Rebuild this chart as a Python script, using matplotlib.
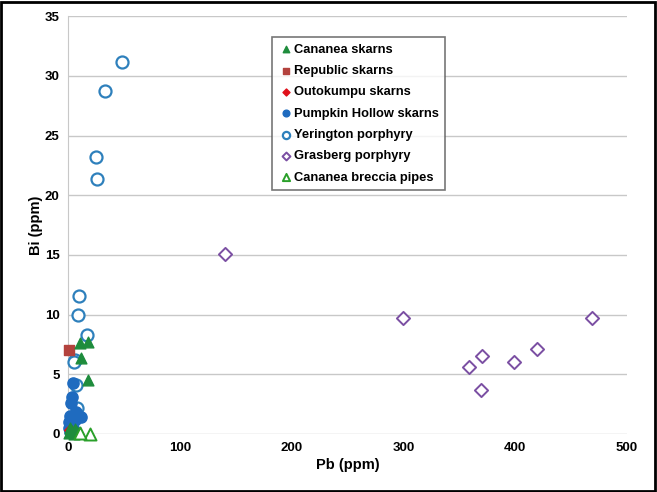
import matplotlib.pyplot as plt
from matplotlib.patches import Rectangle

plt.rcParams['font.family'] = ['Liberation Sans', 'DejaVu Sans']
plt.rcParams['font.weight'] = 'bold'

# Cananea skarns
cananea_pb = [11, 18, 12, 18, 1, 3, 5, 8, 2, 10, 6]
cananea_bi = [7.6, 7.7, 6.4, 4.5, 0.1, 0.3, 0.0, 0.2, 0.5, 0.1, 0.4]
# Republic skarns
republic_pb = [1]
republic_bi = [7.0]
# Outokumpu skarns
outokumpu_pb = [2]
outokumpu_bi = [0.3]
# Pumpkin Hollow skarns
pumpkin_pb = [4.5, 4, 3, 12, 1, 2, 6, 0.5, 3, 5, 1.5, 7]
pumpkin_bi = [4.3, 3.1, 2.6, 1.4, 1.0, 1.5, 1.2, 0.5, 0.8, 0.3, 0.2, 1.8]
# Yerington porphyry
yerington_pb = [48, 33, 25, 26, 10, 9, 17, 6, 5, 8, 7, 3]
yerington_bi = [31.2, 28.7, 23.2, 21.4, 11.6, 10.0, 8.3, 6.2, 6.0, 2.2, 4.1, 1.0]
# Grasberg porphyry
grasberg_pb = [140, 300, 359, 370, 369, 399, 419, 469]
grasberg_bi = [15.1, 9.7, 5.6, 6.5, 3.7, 6.0, 7.1, 9.7]
# Cananea breccia pipes
breccia_pb = [20, 11]
breccia_bi = [0.0, 0.1]

fig = plt.figure(figsize=(6.57, 4.92), dpi=100)
ax = fig.add_axes([0.1035, 0.118, 0.851, 0.849])

ax.scatter(yerington_pb, yerington_bi, marker='o', s=75, facecolors='white', edgecolors='#2e80bc',
           linewidths=1.6, label='Yerington porphyry', clip_on=False, zorder=3)
ax.scatter(pumpkin_pb, pumpkin_bi, marker='o', s=65, color='#1f6bbf', label='Pumpkin Hollow skarns',
           clip_on=False, zorder=4)
ax.scatter(republic_pb, republic_bi, marker='s', s=50, color='#b3423d', label='Republic skarns',
           clip_on=False, zorder=4)
ax.scatter(outokumpu_pb, outokumpu_bi, marker='D', s=35, color='#e0101a', label='Outokumpu skarns',
           clip_on=False, zorder=4)
ax.scatter(grasberg_pb, grasberg_bi, marker='D', s=45, facecolors='white', edgecolors='#7b4fa3',
           linewidths=1.4, label='Grasberg porphyry', clip_on=False, zorder=3)
ax.scatter(cananea_pb, cananea_bi, marker='^', s=60, color='#1e8c3c', label='Cananea skarns',
           clip_on=False, zorder=5)
ax.scatter(breccia_pb, breccia_bi, marker='^', s=75, facecolors='white', edgecolors='#2aa02a',
           linewidths=1.4, label='Cananea breccia pipes', clip_on=False, zorder=5)

ax.set_xlim(0, 500)
ax.set_ylim(0, 35)
ax.set_xticks(range(0, 501, 100))
ax.set_yticks(range(0, 36, 5))
ax.grid(axis='y', color='#c8c8c8', linewidth=1)
ax.set_axisbelow(True)
for side in ['top', 'right', 'bottom']:
    ax.spines[side].set_visible(False)
ax.spines['left'].set_color('#c8c8c8')
ax.tick_params(length=0, labelsize=9.5, pad=6)
for lab in ax.get_xticklabels() + ax.get_yticklabels():
    lab.set_fontweight('bold')
ax.set_xlabel('Pb (ppm)', fontsize=10.5, fontweight='bold', labelpad=3)
ax.set_ylabel('Bi (ppm)', fontsize=10.5, fontweight='bold', labelpad=1)

order = ['Cananea skarns', 'Republic skarns', 'Outokumpu skarns', 'Pumpkin Hollow skarns',
         'Yerington porphyry', 'Grasberg porphyry', 'Cananea breccia pipes']
handles, labels = ax.get_legend_handles_labels()
lookup = dict(zip(labels, handles))
leg = ax.legend([lookup[n] for n in order], order, loc='upper left', bbox_to_anchor=(0.365, 0.95),
                prop={'weight': 'bold', 'size': 9.3}, frameon=True, fancybox=False,
                handletextpad=0.1, labelspacing=0.72, borderpad=0.5, handlelength=1.1,
                markerscale=0.6, borderaxespad=0)
leg.get_frame().set_edgecolor('#555555')
leg.get_frame().set_linewidth(1.2)

fig.patches.append(Rectangle((0.002, 0.003), 0.995, 0.993, transform=fig.transFigure,
                             fill=False, edgecolor='black', linewidth=2))

fig.savefig('out.png', dpi=100)
